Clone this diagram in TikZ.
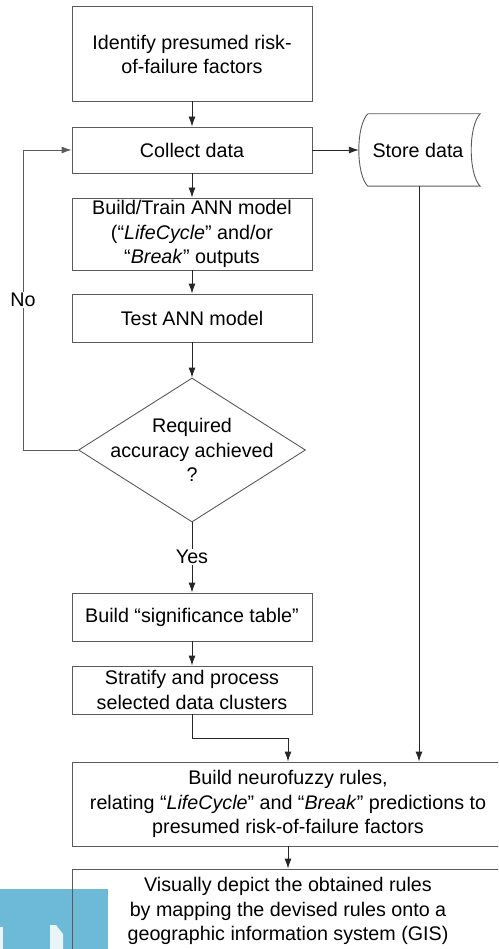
\documentclass[tikz,border=0pt]{standalone}
\usepackage{fontspec}
\setmainfont{Liberation Sans}
\usetikzlibrary{arrows.meta,shapes.geometric,calc}
\definecolor{wmblue}{RGB}{108,185,216}
\definecolor{boxline}{RGB}{90,90,90}
\begin{document}
\begin{tikzpicture}[x=1pt,y=-1pt,
  font=\fontsize{19.7}{24.5}\selectfont,
  stepbox/.style={draw=boxline,line width=0.9pt,rectangle,minimum width=240pt,inner sep=0pt,align=center},
  arr/.style={draw=black!85,line width=0.9pt,-{Latex[length=10pt,width=7pt]}},
  ln/.style={draw=black!85,line width=0.9pt},
  lbl/.style={inner sep=1pt}]
\useasboundingbox (0,0) rectangle (498,949);
\clip (0,0) rectangle (498,949);
% watermark
\fill[wmblue] (0,889) rectangle (108,949);
\fill[white,opacity=0.85] (0,927) rectangle (3,949);
\fill[white,opacity=0.85] (50,925) -- (56,925) -- (63,934) -- (63,949) -- (50,949) -- cycle;
% nodes
\node[stepbox,minimum height=95pt] (b1) at (192,53.5) {};
\node[align=center] at (192,54.5) {Identify presumed risk-\\of-failure factors};
\node[stepbox,minimum height=46pt] (b2) at (192,150) {Collect data};
\node[stepbox,minimum height=72pt] (b3) at (192,234) {Build/Train ANN model\\(“\textit{LifeCycle}” and/or\\“\textit{Break}” outputs};
\node[stepbox,minimum height=48pt] (b4) at (192,318) {Test ANN model};
\node[diamond,draw=boxline,line width=0.9pt,minimum width=227pt,minimum height=144pt,inner sep=0pt] (dec) at (192,450) {};
\node[align=center] at (192,450) {Required\\accuracy achieved\\?};
\node[lbl] (yes) at (192,557) {Yes};
\node[stepbox,minimum height=48pt] (b5) at (192,617) {Build “significance table”};
\node[stepbox,minimum height=48pt] (b6) at (192,690) {Stratify and process\\selected data clusters};
\node[stepbox,minimum width=432pt,minimum height=84pt] (b7) at (288,804) {Build neurofuzzy rules,\\relating “\textit{LifeCycle}” and “\textit{Break}” predictions to\\presumed risk-of-failure factors};
\node[stepbox,minimum width=432pt,minimum height=84pt] (b8) at (288,911) {Visually depict the obtained rules\\by mapping the devised rules onto a\\geographic information system (GIS)};
% store data
\node[inner sep=0pt,minimum width=112pt,minimum height=72pt] (store) at (424,150) {};
\draw[boxline,line width=0.9pt] (store.north west) -- (store.north east)
  .. controls ($(store.north east)+(-12,12)$) and ($(store.south east)+(-12,-12)$) .. (store.south east)
  -- (store.south west)
  .. controls ($(store.south west)+(-12,-12)$) and ($(store.north west)+(-12,12)$) .. (store.north west);
\node at (418,150) {Store data};
\coordinate (sin) at ($(store.west)+(-9,0)$);
% connectors
\draw[arr] (b1) -- (b2);
\draw[arr] (b2) -- (b3);
\draw[arr] (b3) -- (b4);
\draw[arr] (b4) -- (dec.north);
\draw[arr] (b2.east) -- (sin);
\coordinate (nox) at (23,450);
\node[lbl,fill=white] (no) at (23,300) {No};
\draw[ln,draw=boxline] (dec.west) -- (nox) -- (no.south);
\draw[arr,draw=boxline] (no.north) |- (b2.west);
\draw[ln] (dec.south) -- (yes.north);
\draw[arr] (yes.south) -- (b5.north);
\draw[arr] (b5) -- (b6);
\draw[arr] (b6.south) -- ++(0,24) -| (b7.north);
\coordinate (s1) at ([xshift=-5pt]store.south);
\draw[arr] (s1) -- (s1 |- b7.north);
\draw[arr] (b7) -- (b8);
\end{tikzpicture}
\end{document}
